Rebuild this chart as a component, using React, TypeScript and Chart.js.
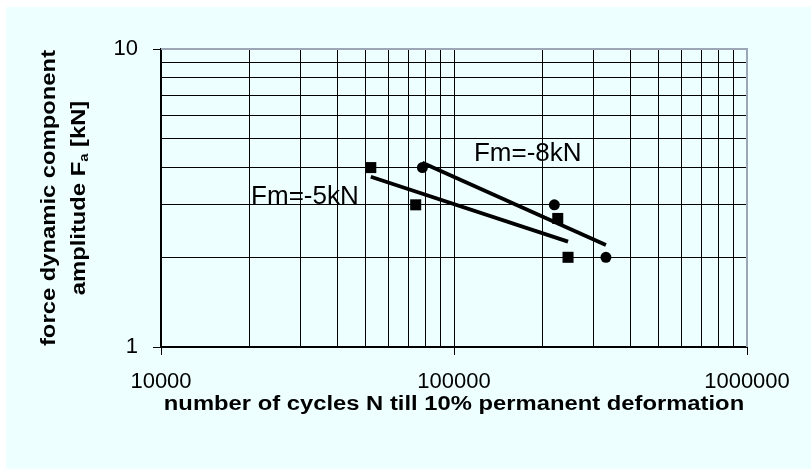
import { useEffect, useRef } from 'react';
import { Chart, registerables } from 'chart.js';

Chart.register(...registerables);

const FONT = '"Liberation Sans", Arial, sans-serif';

// Data: Fm = -5kN (squares)
const cyclesFm5 = [52000, 74000, 226000, 245000];
const ampFm5 = [4.0, 3.0, 2.7, 2.0];
// Data: Fm = -8kN (circles)
const cyclesFm8 = [78000, 220000, 330000];
const ampFm8 = [4.0, 3.0, 2.0];

// Axis ticks (grid lines)
const xTickValues = [
  10000, 20000, 30000, 40000, 50000, 60000, 70000, 80000, 90000,
  100000, 200000, 300000, 400000, 500000, 600000, 700000, 800000, 900000, 1000000,
];
const yTickValues = [1, 2, 3, 4, 5, 6, 7, 8, 9, 10];

// Annotations
const noteTexts = ['Fm=-5kN', 'Fm=-8kN'];
const noteX = [20300, 117000];
const noteY = [3.19, 4.44];

const xTitle = 'number of cycles N till 10% permanent deformation';
const yTitleLine1 = 'force dynamic component';
const yTitleLine2a = 'amplitude F';
const yTitleSub = 'a';
const yTitleLine2b = ' [kN]';

function powerFit(xs: number[], ys: number[]) {
  const lx = xs.map(Math.log10);
  const ly = ys.map(Math.log10);
  const n = lx.length;
  const mx = lx.reduce((a, b) => a + b, 0) / n;
  const my = ly.reduce((a, b) => a + b, 0) / n;
  let sxy = 0;
  let sxx = 0;
  for (let i = 0; i < n; i++) {
    sxy += (lx[i] - mx) * (ly[i] - my);
    sxx += (lx[i] - mx) * (lx[i] - mx);
  }
  const b = sxy / sxx;
  const a = my - b * mx;
  const x0 = Math.min(...xs);
  const x1 = Math.max(...xs);
  return [
    { x: x0, y: Math.pow(10, a + b * Math.log10(x0)) },
    { x: x1, y: Math.pow(10, a + b * Math.log10(x1)) },
  ];
}

function isPow10(v: number) {
  const l = Math.log10(v);
  return Math.abs(l - Math.round(l)) < 1e-9;
}

function stretchedText(ctx: CanvasRenderingContext2D, text: string, x: number, y: number, sx: number) {
  ctx.save();
  ctx.translate(x, y);
  ctx.scale(sx, 1);
  ctx.fillText(text, 0, 0);
  ctx.restore();
}

const decorPlugin = {
  id: 'decor',
  beforeDraw(chart: any) {
    const ctx = chart.ctx as CanvasRenderingContext2D;
    ctx.save();
    ctx.fillStyle = '#EEFFFF';
    ctx.fillRect(6, 7, chart.width - 6, chart.height - 7);
    ctx.restore();
  },
  afterDraw(chart: any) {
    const ctx = chart.ctx as CanvasRenderingContext2D;
    const ca = chart.chartArea;
    const xs = chart.scales.x;
    const ys = chart.scales.y;
    ctx.save();
    // grey frame top & right
    ctx.strokeStyle = '#9DA6B6';
    ctx.lineWidth = 2;
    ctx.beginPath();
    ctx.moveTo(ca.left, ca.top);
    ctx.lineTo(ca.right, ca.top);
    ctx.lineTo(ca.right, ca.bottom);
    ctx.stroke();

    ctx.fillStyle = '#000';
    // x title
    const stretch = 1.22;
    ctx.font = `bold 19.5px ${FONT}`;
    ctx.textAlign = 'center';
    ctx.textBaseline = 'middle';
    stretchedText(ctx, xTitle, (ca.left + ca.right) / 2, 405, stretch);

    // y title (rotated)
    const cy = (ca.top + ca.bottom) / 2;
    ctx.save();
    ctx.translate(50, cy);
    ctx.rotate(-Math.PI / 2);
    ctx.scale(stretch, 1);
    ctx.fillText(yTitleLine1, 0, 0);
    ctx.restore();

    ctx.save();
    ctx.translate(80, cy);
    ctx.rotate(-Math.PI / 2);
    ctx.scale(stretch, 1);
    ctx.textAlign = 'left';
    ctx.font = `bold 19.5px ${FONT}`;
    const wA = ctx.measureText(yTitleLine2a).width;
    const wB = ctx.measureText(yTitleLine2b).width;
    ctx.font = `bold 12px ${FONT}`;
    const wS = ctx.measureText(yTitleSub).width;
    const total = wA + wS + wB;
    let px = -total / 2;
    ctx.font = `bold 19.5px ${FONT}`;
    ctx.fillText(yTitleLine2a, px, 0);
    px += wA;
    ctx.font = `bold 12px ${FONT}`;
    ctx.fillText(yTitleSub, px, 5);
    px += wS;
    ctx.font = `bold 19.5px ${FONT}`;
    ctx.fillText(yTitleLine2b, px, 0);
    ctx.restore();

    // annotations
    ctx.font = `26px ${FONT}`;
    ctx.textAlign = 'left';
    ctx.textBaseline = 'middle';
    for (let i = 0; i < noteTexts.length; i++) {
      ctx.fillText(noteTexts[i], xs.getPixelForValue(noteX[i]), ys.getPixelForValue(noteY[i]));
    }
    ctx.restore();
  },
};

export default function App() {
  const ref = useRef<HTMLCanvasElement | null>(null);
  useEffect(() => {
    if (!ref.current) return;
    const pts5 = cyclesFm5.map((x, i) => ({ x, y: ampFm5[i] }));
    const pts8 = cyclesFm8.map((x, i) => ({ x, y: ampFm8[i] }));
    const fit5 = powerFit(cyclesFm5, ampFm5);
    const fit8 = powerFit(cyclesFm8, ampFm8);
    const tickColor = (c: any) => (c.tick && isPow10(c.tick.value) ? '#000' : 'rgba(0,0,0,0)');
    const chart = new Chart(ref.current, {
      type: 'scatter',
      data: {
        datasets: [
          {
            label: 'Fm=-5kN',
            data: pts5,
            pointStyle: 'rect',
            pointRadius: 7.8,
            backgroundColor: '#000',
            borderColor: '#000',
            borderWidth: 0,
          },
          {
            label: 'Fm=-8kN',
            data: pts8,
            pointStyle: 'circle',
            pointRadius: 5.5,
            backgroundColor: '#000',
            borderColor: '#000',
            borderWidth: 0,
          },
          {
            label: 'trend -5kN',
            type: 'line',
            data: fit5,
            showLine: true,
            borderColor: '#000',
            borderWidth: 3.8,
            pointRadius: 0,
          },
          {
            label: 'trend -8kN',
            type: 'line',
            data: fit8,
            showLine: true,
            borderColor: '#000',
            borderWidth: 3.8,
            pointRadius: 0,
          },
        ],
      } as any,
      options: {
        animation: false,
        responsive: false,
        maintainAspectRatio: false,
        layout: { padding: { left: 0, top: 49, right: 64, bottom: 0 } },
        plugins: {
          legend: { display: false },
          tooltip: { enabled: false },
          title: { display: false },
        },
        scales: {
          x: {
            type: 'logarithmic',
            position: 'bottom',
            min: xTickValues[0],
            max: xTickValues[xTickValues.length - 1],
            afterBuildTicks: (s: any) => {
              s.ticks = xTickValues.map((value) => ({ value, major: isPow10(value) }));
            },
            grid: { color: '#000', lineWidth: 1, tickLength: 8, tickColor, drawTicks: true },
            border: { color: '#000', width: 2 },
            ticks: {
              autoSkip: false,
              maxRotation: 0,
              minRotation: 0,
              color: '#000',
              padding: 14,
              font: { family: FONT, size: 22 },
              callback: (v: any) => (isPow10(Number(v)) ? String(Number(v)) : ''),
            },
            afterFit: (s: any) => {
              s.height = 122;
            },
          },
          y: {
            type: 'logarithmic',
            position: 'left',
            min: yTickValues[0],
            max: yTickValues[yTickValues.length - 1],
            afterBuildTicks: (s: any) => {
              s.ticks = yTickValues.map((value) => ({ value, major: isPow10(value) }));
            },
            grid: { color: '#000', lineWidth: 1, tickLength: 8, tickColor, drawTicks: true },
            border: { color: '#000', width: 2 },
            ticks: {
              autoSkip: false,
              color: '#000',
              padding: 15,
              font: { family: FONT, size: 22 },
              callback: (v: any) => (isPow10(Number(v)) ? String(Number(v)) : ''),
            },
            afterFit: (s: any) => {
              s.width = 161;
            },
          },
        },
      } as any,
      plugins: [decorPlugin],
    });
    return () => chart.destroy();
  }, []);
  return (
    <div style={{ position: 'absolute', left: 0, top: 0, width: 811, height: 469 }}>
      <canvas ref={ref} width={811} height={469} style={{ display: 'block', width: 811, height: 469 }} />
    </div>
  );
}
